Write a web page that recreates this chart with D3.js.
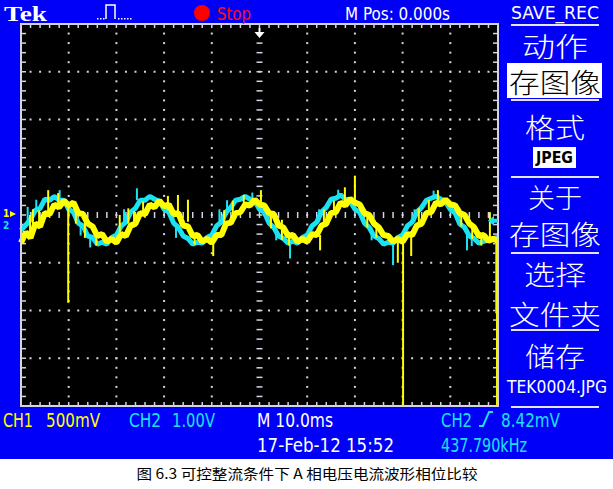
<!DOCTYPE html>
<html><head><meta charset="utf-8">
<script src="https://cdn.jsdelivr.net/npm/d3@7"></script>
<style>html,body{margin:0;padding:0;background:#fff;} svg{display:block}</style>
</head><body>
<svg id="c" width="613" height="489"></svg>
<script>
// ---------- data ----------
const sampleStartMs = -50;      // first sample time (ms, relative to trigger)
const sampleStepMs = 1;         // sample spacing (ms)
// CH1 (yellow, 500 mV/div) samples in volts
const ch1Volts = [
  -0.30,-0.19,-0.25,-0.10,-0.13, 0.01, 0.00, 0.10, 0.07, 0.14,
   0.09, 0.12, 0.01, 0.00,-0.10,-0.13,-0.23,-0.21,-0.29,-0.26,
  -0.30,-0.21,-0.23,-0.12,-0.10, 0.01, 0.00, 0.10, 0.07, 0.14,
   0.08, 0.10, 0.00, 0.01,-0.12,-0.13,-0.23,-0.22,-0.29,-0.26,
  -0.30,-0.22,-0.22,-0.10,-0.09, 0.01, 0.02, 0.10, 0.09, 0.15,
   0.10, 0.09, 0.01, 0.00,-0.12,-0.14,-0.23,-0.22,-0.29,-0.26,
  -0.29,-0.21,-0.22,-0.12,-0.10, 0.01, 0.02, 0.12, 0.09, 0.16,
   0.12, 0.10, 0.01,-0.01,-0.10,-0.14,-0.22,-0.23,-0.29,-0.26,
  -0.29,-0.21,-0.22,-0.12,-0.10, 0.01, 0.02, 0.12, 0.10, 0.15,
   0.10, 0.09, 0.01,-0.01,-0.10,-0.14,-0.23,-0.22,-0.28,-0.26,
  -0.28
];
// CH2 (cyan, 1.00 V/div) samples in volts
const ch2Volts = [
  -0.19,-0.08, 0.04, 0.23, 0.27, 0.46, 0.44, 0.52, 0.44, 0.44,
   0.25, 0.19,-0.04,-0.10,-0.31,-0.34,-0.48,-0.44,-0.48,-0.34,
  -0.29,-0.10,-0.02, 0.19, 0.27, 0.44, 0.44, 0.52, 0.46, 0.42,
   0.25, 0.19,-0.04,-0.13,-0.31,-0.36,-0.48,-0.44,-0.46,-0.34,
  -0.29,-0.10,-0.02, 0.19, 0.29, 0.44, 0.46, 0.52, 0.46, 0.42,
   0.25, 0.19,-0.04,-0.13,-0.31,-0.36,-0.46,-0.42,-0.46,-0.34,
  -0.29,-0.10,-0.02, 0.19, 0.29, 0.46, 0.48, 0.55, 0.46, 0.42,
   0.25, 0.19,-0.04,-0.13,-0.31,-0.36,-0.48,-0.44,-0.46,-0.34,
  -0.29,-0.10,-0.02, 0.19, 0.29, 0.44, 0.48, 0.52, 0.46, 0.40,
   0.25, 0.17,-0.06,-0.13,-0.31,-0.36,-0.46,-0.42,-0.40,-0.36,
  -0.34
];
// glitches / noise hairs: [time ms, from V, to V]
const ch1Spikes = [
  [-40.1, 0.09,-0.93],[30.1,-0.27,-2.00],[49.8,-0.25,-2.02],[20.0,0.09,0.40],
  [-44.3,-0.01,0.25],[-42.2,0.09,0.22],[-17.1,-0.01,0.20],[-15.0,-0.08,0.15],
  [-19.2,0.04,0.19],[0.3,0.09,0.25],[-9.7,-0.27,-0.44],[29.0,-0.27,-0.51],
  [31.8,-0.22,-0.44],[12.7,-0.22,-0.38],[17.9,0.09,0.28],[-48.1,-0.22,-0.01],
  [-29.3,-0.19,-0.01],[4.7,-0.06,-0.27],[48.3,-0.27,0.02],[37.4,0.09,0.25],
  [-47.5,-0.12,0.05],[-46.2,-0.15,0.04],[-38.5,0.05,-0.10],[-36.6,-0.08,-0.25],
  [-34.2,-0.20,-0.33],[-27.5,-0.10,0.06],[-26.3,-0.14,0.03],[-24.4,0.00,0.13],
  [-13.6,-0.20,-0.32],[-7.4,-0.12,0.04],[-5.6,0.00,0.14],[-3.3,0.08,0.20],
  [2.4,0.00,-0.15],[6.2,-0.20,-0.33],[13.5,-0.10,0.05],[15.6,0.00,0.14],
  [22.6,0.00,-0.14],[24.5,-0.12,-0.25],[33.4,-0.10,0.06],[35.5,0.00,0.15],
  [42.3,0.00,-0.13],[44.6,-0.12,-0.26],[46.5,-0.20,-0.33]
];
const ch2Spikes = [
  [49.6,-0.40,-1.93],[28.0,-0.48,-0.92],[-25.7,0.44,0.69],[-41.9,0.44,0.65],
  [6.4,-0.46,-0.78],[-6.8,0.13,0.44],[43.5,-0.19,-0.61],
  [-48.6,0.00,0.30],[-46.8,0.20,0.45],[-37.5,-0.05,-0.30],[-35.5,-0.30,-0.55],
  [-28.4,-0.02,0.25],[-17.5,-0.10,-0.35],[-8.4,-0.02,0.25],[-1.5,0.40,0.60],
  [3.5,-0.13,-0.40],[12.5,-0.02,0.25],[16.5,0.46,0.66],[23.5,-0.13,-0.40],
  [32.5,-0.02,0.25],[36.5,0.46,0.64],[44.5,-0.31,-0.52]
];
const msPerDiv = 10, ch1VoltsPerDiv = 0.5, ch2VoltsPerDiv = 1.0;
const ch1PosDiv = 0.02, ch2PosDiv = -0.13;
const trigLevelV = 0.00842;
const menuItems = [
  {text:"动作", cy:45, len:66},
  {text:"存图像", cy:81, len:92, boxed:true},
  {text:"格式", cy:126, len:60},
  {text:"关于", cy:196, len:54},
  {text:"存图像", cy:233, len:92},
  {text:"选择", cy:273, len:62},
  {text:"文件夹", cy:313, len:92},
  {text:"储存", cy:355, len:60}
];
const menuLinesY = [25, 100, 177, 253, 330, 407];
const statusItems = [
  {t:"CH1", x:3, y:427, c:"#ffff00", len:30},
  {t:"500mV", x:46, y:427, c:"#ffff00", len:54},
  {t:"CH2", x:129, y:427, c:"#19e3f3", len:32},
  {t:"1.00V", x:172, y:427, c:"#19e3f3", len:43},
  {t:"M 10.0ms", x:257, y:427, c:"#ffffff", len:76},
  {t:"CH2", x:441, y:427, c:"#19e3f3", len:31},
  {t:"8.42mV", x:501, y:427, c:"#19e3f3", len:59},
  {t:"17-Feb-12 15:52", x:257, y:452, c:"#ffffff", len:137},
  {t:"437.790kHz", x:441, y:452, c:"#19e3f3", len:86}
];
const captionText = "图 6.3  可控整流条件下 A 相电压电流波形相位比较";

// ---------- drawing ----------
const svg = d3.select("#c");
const BLUE = "#0000f8", YEL = "#ffff00", CYA = "#19e3f3", GRID = "#d4d4e4";
const ASCII = "'DejaVu Sans Condensed','DejaVu Sans',sans-serif";
const CJK = "'Noto Sans CJK SC','Noto Sans CJK JP',sans-serif";

svg.append("rect").attr("width",613).attr("height",489).attr("fill","#fff");
svg.append("rect").attr("width",613).attr("height",459).attr("fill",BLUE);

const L=21, R=498, T=24, B=406;
const x = d3.scaleLinear().domain([-5*msPerDiv, 5*msPerDiv]).range([L,R]);
const y = d3.scaleLinear().domain([-4,4]).range([B,T]);

svg.append("rect").attr("x",L).attr("y",T).attr("width",R-L).attr("height",B-T).attr("fill","#000");

const g = svg.append("g");
const minorX = d3.range(-48, 49, 2), minorY = d3.range(-3.8, 3.81, 0.2);
const majorX = d3.range(-40, 41, 10), majorY = d3.range(-3, 4, 1);
majorX.forEach(mx => minorY.forEach(my => {
  if (mx===0) return;
  g.append("rect").attr("x",x(mx)-1).attr("y",y(my)-1).attr("width",2).attr("height",2).attr("fill",GRID);
}));
majorY.forEach(my => minorX.forEach(mx => {
  if (my===0) return;
  g.append("rect").attr("x",x(mx)-1).attr("y",y(my)-1).attr("width",2).attr("height",2).attr("fill",GRID);
}));
minorX.forEach(mx => g.append("line").attr("x1",x(mx)).attr("x2",x(mx)).attr("y1",y(0)-3).attr("y2",y(0)+3).attr("stroke",GRID).attr("stroke-width",1.5));
minorY.forEach(my => g.append("line").attr("y1",y(my)).attr("y2",y(my)).attr("x1",x(0)-3).attr("x2",x(0)+3).attr("stroke",GRID).attr("stroke-width",1.5));
minorX.forEach(mx => {
  g.append("line").attr("x1",x(mx)).attr("x2",x(mx)).attr("y1",T).attr("y2",T+4).attr("stroke",GRID).attr("stroke-width",1.5);
  g.append("line").attr("x1",x(mx)).attr("x2",x(mx)).attr("y1",B-4).attr("y2",B).attr("stroke",GRID).attr("stroke-width",1.5);
});
minorY.forEach(my => {
  g.append("line").attr("y1",y(my)).attr("y2",y(my)).attr("x1",L).attr("x2",L+5).attr("stroke",GRID).attr("stroke-width",1.5);
  g.append("line").attr("y1",y(my)).attr("y2",y(my)).attr("x1",R-5).attr("x2",R).attr("stroke",GRID).attr("stroke-width",1.5);
});

// traces
const tOf = i => sampleStartMs + i*sampleStepMs;
const y1 = v => y(v/ch1VoltsPerDiv + ch1PosDiv);
const y2 = v => y(v/ch2VoltsPerDiv + ch2PosDiv);
const line1 = d3.line().x((d,i)=>x(tOf(i))).y(d=>y1(d));
const line2 = d3.line().x((d,i)=>x(tOf(i))).y(d=>y2(d));
const tr = svg.append("g");
tr.append("path").attr("d",line2(ch2Volts)).attr("fill","none").attr("stroke",CYA).attr("stroke-width",5).attr("stroke-linejoin","bevel");
ch2Spikes.forEach(s => tr.append("line").attr("x1",x(s[0])).attr("x2",x(s[0])).attr("y1",y2(s[1])).attr("y2",y2(s[2])).attr("stroke",CYA).attr("stroke-width",2));
tr.append("path").attr("d",line1(ch1Volts)).attr("fill","none").attr("stroke",YEL).attr("stroke-width",6).attr("stroke-linejoin","bevel");
ch1Spikes.forEach(s => tr.append("line").attr("x1",x(s[0])).attr("x2",x(s[0])).attr("y1",y1(s[1])).attr("y2",y1(s[2])).attr("stroke",YEL).attr("stroke-width",2));

svg.append("rect").attr("x",L).attr("y",T).attr("width",R-L).attr("height",B-T).attr("fill","none").attr("stroke",GRID).attr("stroke-width",2);

const tx = x(0);
svg.append("path").attr("d",`M${tx-5},${T+8} L${tx+5},${T+8} L${tx},${T+14} Z M${tx-1},${T+4} L${tx+1},${T+4} L${tx+1},${T+8} L${tx-1},${T+8} Z`).attr("fill","#fff");
const ty = y2(trigLevelV);
svg.append("path").attr("d",`M${R-10},${ty} L${R-4},${ty-5} L${R-4},${ty-2} L${R},${ty-2} L${R},${ty+2} L${R-4},${ty+2} L${R-4},${ty+5} Z`).attr("fill",CYA);

// channel ground markers (left)
svg.append("text").attr("x",3).attr("y",y1(0)+3).text("1").attr("fill",YEL).attr("font-family",ASCII).attr("font-size",10).attr("font-weight","bold");
svg.append("path").attr("d",`M10,${y1(0)-3} L16,${y1(0)} L10,${y1(0)+3} Z`).attr("fill",YEL);
svg.append("text").attr("x",3).attr("y",y2(0)+8).text("2").attr("fill",CYA).attr("font-family",ASCII).attr("font-size",10).attr("font-weight","bold");

// top bar
svg.append("text").attr("x",4).attr("y",21).text("Tek").attr("fill","#fff").attr("font-family","'Liberation Serif',serif").attr("font-weight","bold").attr("font-size",22).attr("textLength",43).attr("lengthAdjust","spacingAndGlyphs");
svg.append("path").attr("d","M106,19 L106,5 L115,5 L115,19").attr("fill","none").attr("stroke","#fff").attr("stroke-width",1.5);
[97,100,103,118,121,124,127,130].forEach(px => svg.append("rect").attr("x",px).attr("y",18).attr("width",1.5).attr("height",1.5).attr("fill","#fff"));
svg.append("circle").attr("cx",202).attr("cy",13).attr("r",8).attr("fill","#ff0000");
const topText = (t,xx,yy,c,len) => svg.append("text").attr("x",xx).attr("y",yy).text(t).attr("fill",c).attr("font-family",ASCII).attr("font-size",18).attr("textLength",len).attr("lengthAdjust","spacingAndGlyphs");
topText("Stop",217,20,"#ff1010",34);
topText("M Pos: 0.000s",345,20,"#fff",105);
topText("SAVE_REC",511,19,"#fff",88);

// right menu
menuLinesY.forEach(my => svg.append("line").attr("x1",511).attr("x2",599).attr("y1",my).attr("y2",my).attr("stroke","#e4e4ff").attr("stroke-width",2));
menuItems.forEach(m => {
  if (m.boxed) svg.append("rect").attr("x",507).attr("y",m.cy-18).attr("width",95).attr("height",35).attr("fill","#fff");
  svg.append("text").attr("x",555).attr("y",m.cy).attr("text-anchor","middle").attr("dominant-baseline","central")
    .text(m.text).attr("fill",m.boxed?"#000":"#fff").attr("font-family",CJK).attr("font-weight",300).attr("font-size",27)
    .attr("textLength",m.len).attr("lengthAdjust","spacingAndGlyphs");
});
svg.append("rect").attr("x",533).attr("y",147).attr("width",43).attr("height",21).attr("fill","#fff");
svg.append("text").attr("x",554.5).attr("y",163).attr("text-anchor","middle").text("JPEG").attr("fill","#000").attr("font-family",ASCII).attr("font-weight","bold").attr("font-size",15).attr("textLength",37).attr("lengthAdjust","spacingAndGlyphs");
svg.append("text").attr("x",507).attr("y",393).text("TEK0004.JPG").attr("fill","#fff").attr("font-family",ASCII).attr("font-size",17).attr("textLength",100).attr("lengthAdjust","spacingAndGlyphs");

// status bar
statusItems.forEach(s => svg.append("text").attr("x",s.x).attr("y",s.y).text(s.t).attr("fill",s.c).attr("font-family",ASCII).attr("font-size",19).attr("textLength",s.len).attr("lengthAdjust","spacingAndGlyphs"));
svg.append("path").attr("d","M479,426 L483,426 L489,412 L493,412").attr("fill","none").attr("stroke",CYA).attr("stroke-width",2);

// caption
svg.append("text").attr("x",307).attr("y",479).attr("text-anchor","middle").text(captionText).attr("fill","#000").attr("font-family",CJK).attr("font-size",14).attr("textLength",341).attr("lengthAdjust","spacingAndGlyphs");
</script>
</body></html>
